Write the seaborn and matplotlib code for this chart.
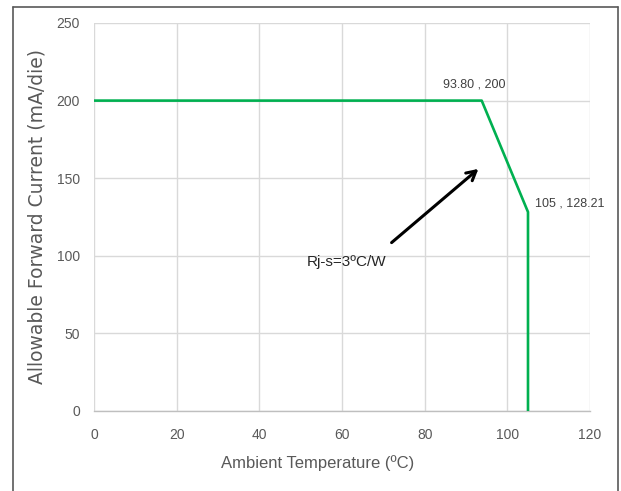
import matplotlib
matplotlib.use("Agg")
import matplotlib.pyplot as plt
import seaborn as sns
import pandas as pd
from matplotlib.lines import Line2D

temps = [0, 93.80, 105, 105]
currents = [200, 200, 128.21, 0]
x_ticks = [0, 20, 40, 60, 80, 100, 120]
y_ticks = [0, 50, 100, 150, 200, 250]
label_knee = "93.80 , 200"
label_end = "105 , 128.21"
label_rjs = "Rj-s=3ºC/W"

sns.set_theme(style="white")
plt.rcParams['font.family'] = ['Liberation Sans', 'DejaVu Sans']

df = pd.DataFrame({"temp": temps, "current": currents})

fig = plt.figure(figsize=(6.21, 4.91), dpi=100)
ax = fig.add_axes([94/621, 1-411/491, (590-94)/621, (411-23)/491])

sns.lineplot(data=df, x="temp", y="current", sort=False, estimator=None,
             color="#00B050", linewidth=1.9, ax=ax, zorder=3)

ax.set_xlim(0, 120)
ax.set_ylim(0, 250)
ax.set_xticks(x_ticks)
ax.set_yticks(y_ticks)
ax.grid(True, color="#d9d9d9", linewidth=1.0)
ax.set_axisbelow(True)
for s in ["top", "right", "left"]:
    ax.spines[s].set_visible(False)
ax.spines["bottom"].set_color("#bfbfbf")
ax.spines["bottom"].set_linewidth(1.0)
ax.tick_params(axis="both", length=0, labelsize=10, colors="#595959")
ax.tick_params(axis="x", pad=12)
ax.tick_params(axis="y", pad=10)

ax.set_xlabel("Ambient Temperature (ºC)", fontsize=12, color="#595959")
ax.xaxis.set_label_coords((318-94)/496, -(455-411)/388)
ax.set_ylabel("Allowable Forward Current (mA/die)", fontsize=13.5, color="#595959",
              family=['DejaVu Sans'])
ax.yaxis.set_label_coords(-(94-47)/496, 0.5)

ax.text(84.5, 210.5, label_knee, fontsize=9, color="#404040", va="center", ha="left")
ax.text(106.8, 134, label_end, fontsize=9, color="#404040", va="center", ha="left")
ax.text(51.5, 96, label_rjs, fontsize=11, color="#262626", va="center", ha="left")
ax.annotate("", xy=(93.0, 156), xytext=(72.0, 108.5),
            arrowprops=dict(arrowstyle="->,head_length=0.55,head_width=0.3",
                            color="black", lw=2.2, shrinkA=0, shrinkB=0))

# outer frame (left, top, right)
frame_col = "#595959"
fig.add_artist(Line2D([13/621, 13/621], [0, 1-7/491], transform=fig.transFigure,
                      color=frame_col, lw=1.2))
fig.add_artist(Line2D([13/621, 618/621], [1-7/491, 1-7/491], transform=fig.transFigure,
                      color=frame_col, lw=1.2))
fig.add_artist(Line2D([618/621, 618/621], [0, 1-7/491], transform=fig.transFigure,
                      color=frame_col, lw=1.2))

fig.savefig("out.png", dpi=100)
